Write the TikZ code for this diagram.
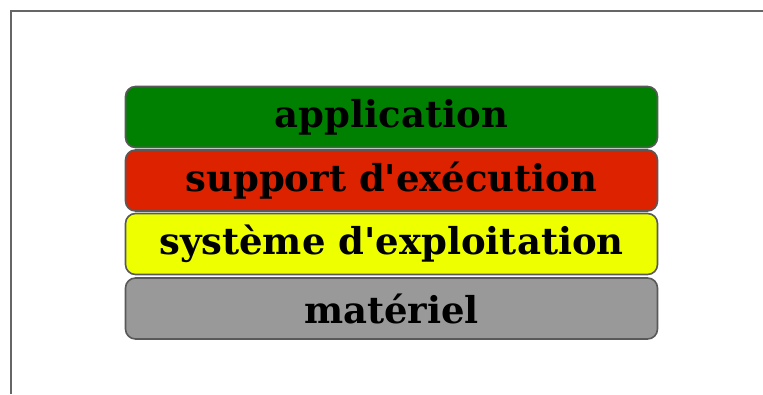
\documentclass[tikz,border=0pt]{standalone}
\usepackage{fontspec}
\setmainfont{DejaVu Serif}[Ligatures=TeXOff]
\begin{document}
\begin{tikzpicture}[x=1pt,y=1pt,
  layer/.style={draw=black!65, line width=1.6pt, rounded corners=10pt,
    minimum width=532pt, minimum height=61pt, inner sep=0pt,
    font=\bfseries\fontsize{37}{37}\selectfont, text=black}]
  \useasboundingbox (0,0) rectangle (763,394);
  % partial frame
  \draw[black!60, line width=1.5pt] (11,0) -- (11,383) -- (763,383);
  % layer stack
  \node[layer, fill={rgb,255:red,0;green,128;blue,0}]   (app) at (391.5,277) {application};
  \node[layer, fill={rgb,255:red,221;green,34;blue,0}]  (rt)  at (391.5,213.5) {support d'exécution};
  \node[layer, fill={rgb,255:red,238;green,255;blue,0}] (os)  at (391.5,150) {système d'exploitation};
  \node[layer, fill={rgb,255:red,153;green,153;blue,153}] (hw) at (391.5,85.5) {matériel};
\end{tikzpicture}
\end{document}
